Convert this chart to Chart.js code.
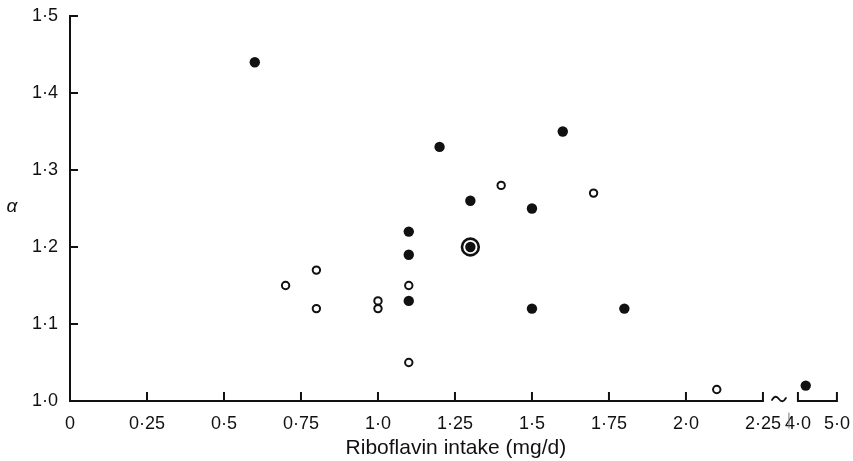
<!DOCTYPE html>
<html>
<head>
<meta charset="utf-8">
<script src="https://cdn.jsdelivr.net/npm/chart.js@4"></script>
<style>
  body { margin: 0; background: #fff; }
</style>
</head>
<body>
<canvas id="chart" width="853" height="461"></canvas>
<script>
// filled circles
const filledX = [0.6, 1.1, 1.1, 1.1, 1.2, 1.3, 1.3, 1.5, 1.5, 1.6, 1.8, 4.2];
const filledY = [1.44, 1.22, 1.19, 1.13, 1.33, 1.26, 1.2, 1.25, 1.12, 1.35, 1.12, 1.02];
// open circles
const openX = [0.7, 0.8, 0.8, 1.0, 1.0, 1.1, 1.1, 1.4, 1.7, 2.1];
const openY = [1.15, 1.17, 1.12, 1.13, 1.12, 1.15, 1.05, 1.28, 1.27, 1.015];
// ringed point
const ringX = [1.3];
const ringY = [1.2];

const xTicks = [0, 0.25, 0.5, 0.75, 1.0, 1.25, 1.5, 1.75, 2.0, 2.25, 4.0, 5.0];
const xLabels = ["0", "0·25", "0·5", "0·75", "1·0", "1·25", "1·5", "1·75", "2·0", "2·25", "4·0", "5·0"];
const yTicks = [1.0, 1.1, 1.2, 1.3, 1.4, 1.5];
const yLabels = ["1·0", "1·1", "1·2", "1·3", "1·4", "1·5"];

// broken x axis: 4..5 squeezed after the gap
const BREAK_START = 4.0;
const BREAK_POS = 2.3636;
const BREAK_SCALE = 0.1266;
const PX_PER_UNIT = 308;
function bx(v) {
  return v >= BREAK_START ? BREAK_POS + (v - BREAK_START) * BREAK_SCALE : v;
}
function pts(xs, ys) {
  return xs.map((x, i) => ({ x: bx(x), y: ys[i] }));
}

const FONT = "'Liberation Sans', Arial, sans-serif";

const axesPlugin = {
  id: "axes",
  afterDatasetsDraw(chart) {
    const ctx = chart.ctx;
    const xs = chart.scales.x;
    const ys = chart.scales.y;
    const y0 = ys.getPixelForValue(1.0);
    const x0 = xs.getPixelForValue(0);
    ctx.save();
    ctx.strokeStyle = "#111";
    ctx.lineWidth = 2;
    ctx.lineCap = "square";

    // y axis + ticks (inward)
    ctx.beginPath();
    ctx.moveTo(x0, ys.getPixelForValue(1.5));
    ctx.lineTo(x0, y0);
    yTicks.forEach(v => {
      const p = ys.getPixelForValue(v);
      ctx.moveTo(x0, p);
      ctx.lineTo(x0 + 7, p);
    });
    ctx.stroke();

    // x axis main part
    ctx.beginPath();
    ctx.moveTo(x0, y0);
    ctx.lineTo(xs.getPixelForValue(bx(2.25)), y0);
    // x axis after break
    ctx.moveTo(xs.getPixelForValue(bx(4.0)), y0);
    ctx.lineTo(xs.getPixelForValue(bx(5.0)), y0);
    xTicks.forEach(v => {
      if (v === 0) return;
      const p = xs.getPixelForValue(bx(v));
      ctx.moveTo(p, y0);
      ctx.lineTo(p, y0 - 8);
    });
    ctx.stroke();

    // tilde
    const tx = xs.getPixelForValue(bx(2.25)) + 9;
    ctx.beginPath();
    ctx.lineWidth = 1.8;
    ctx.lineCap = "round";
    ctx.moveTo(tx, y0 - 1);
    ctx.quadraticCurveTo(tx + 3.5, y0 - 7, tx + 7, y0 - 2);
    ctx.quadraticCurveTo(tx + 10.5, y0 + 3, tx + 14, y0 - 3);
    ctx.stroke();

    // faint break mark between labels
    ctx.beginPath();
    ctx.lineWidth = 1;
    ctx.strokeStyle = "#777";
    ctx.moveTo(tx + 17, y0 + 12);
    ctx.lineTo(tx + 17, y0 + 27);
    ctx.stroke();
    ctx.restore();

    // alpha label
    ctx.save();
    ctx.fillStyle = "#111";
    ctx.font = "italic 19px " + FONT;
    ctx.textAlign = "center";
    ctx.textBaseline = "middle";
    ctx.fillText("α", 12, 207);
    ctx.restore();
  }
};

const chart = new Chart(document.getElementById("chart"), {
  type: "scatter",
  data: {
    datasets: [
      {
        data: pts(filledX, filledY),
        pointRadius: 5.2,
        pointBackgroundColor: "#111",
        pointBorderWidth: 0
      },
      {
        data: pts(openX, openY),
        pointRadius: 3.7,
        pointBackgroundColor: "#fff",
        pointBorderColor: "#111",
        pointBorderWidth: 2
      },
      {
        data: pts(ringX, ringY),
        pointRadius: 8.4,
        pointBackgroundColor: "#fff",
        pointBorderColor: "#111",
        pointBorderWidth: 2.6
      }
    ]
  },
  options: {
    responsive: false,
    animation: false,
    layout: { padding: { top: 16, right: 0, left: 0, bottom: 0 } },
    plugins: {
      legend: { display: false },
      tooltip: { enabled: false }
    },
    scales: {
      x: {
        type: "linear",
        min: 0,
        max: 2.52,
        afterBuildTicks: s => { s.ticks = xTicks.map(v => ({ value: bx(v) })); },
        afterFit: s => { s.height = 60; },
        grid: {
          display: true,
          drawOnChartArea: false,
          drawTicks: true,
          tickLength: 9,
          color: "rgba(0,0,0,0)"
        },
        border: { display: false },
        ticks: {
          autoSkip: false,
          maxRotation: 0,
          padding: 3,
          color: "#111",
          font: { family: FONT, size: 18 },
          callback: (v, i) => xLabels[i]
        },
        title: {
          display: true,
          text: "Riboflavin intake (mg/d)",
          color: "#111",
          font: { family: FONT, size: 21 },
          padding: { top: 0, bottom: 0 }
        }
      },
      y: {
        min: 1.0,
        max: 1.5,
        afterBuildTicks: s => { s.ticks = yTicks.map(v => ({ value: v })); },
        afterFit: s => { s.width = 70; s.paddingTop = 0; s.paddingBottom = 0; },
        grid: { display: false, drawTicks: false },
        border: { display: false },
        ticks: {
          padding: 12,
          color: "#111",
          font: { family: FONT, size: 18 },
          callback: (v, i) => yLabels[i]
        }
      }
    }
  },
  plugins: [axesPlugin]
});

// keep 0.25 units = 77px whatever width the layout leaves
for (let i = 0; i < 4; i++) {
  const area = chart.chartArea;
  chart.options.scales.x.max = (area.right - area.left) / PX_PER_UNIT;
  chart.update();
}
</script>
</body>
</html>
